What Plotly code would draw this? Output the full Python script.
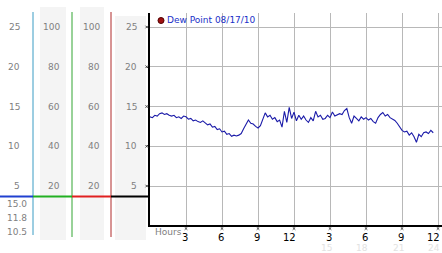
import plotly.graph_objects as go

# ---- data ----
dew_point = [
    13.7, 13.6, 13.9, 13.8, 14.1, 14.2, 14.0, 14.1, 13.9, 13.8,
    13.9, 13.6, 13.7, 13.5, 13.8, 13.7, 13.4, 13.5, 13.2, 13.3,
    13.1, 13.0, 13.2, 12.9, 12.7, 12.8, 12.4, 12.5, 12.1, 12.2,
    11.8, 11.9, 11.5, 11.6, 11.25, 11.4, 11.3, 11.4, 11.6, 12.2,
    12.7, 13.3, 12.9, 12.8, 12.5, 12.3, 12.6, 13.4, 14.2, 13.7,
    13.9, 13.4, 13.6, 13.1, 13.3, 12.4, 14.4, 13.0, 14.9, 13.5,
    14.3, 13.2, 13.9, 13.4, 13.8, 13.3, 13.0, 13.6, 13.2, 14.4,
    13.7, 13.9, 13.4, 13.5, 13.9, 13.6, 14.3, 13.8, 14.0, 14.1,
    14.0, 14.5, 14.75, 13.6, 12.9, 13.8, 13.5, 13.2, 13.7, 13.4,
    13.6, 13.3, 13.5, 13.1, 12.9, 13.6, 14.0, 14.25, 13.8, 14.0,
    13.6, 13.4, 13.25, 12.9, 12.4, 12.0, 11.8, 11.9, 11.4, 11.7,
    11.2, 10.5, 11.5, 11.2, 11.7, 11.8, 11.6, 12.0, 11.7,
]
hours = [i * 0.2 for i in range(len(dew_point))]

y_ticks = [25, 20, 15, 10, 5]
pct_ticks = ["100", "80", "60", "40", "20"]
hour_ticks = [3, 6, 9, 12, 15, 18, 21, 24]
hour_labels = ["3", "6", "9", "12", "3", "6", "9", "12"]
faint_ticks = [15, 18, 21, 24]
faint_labels = ["15", "18", "21", "24"]
col1_extra = ["15.0", "11.8", "10.5"]
legend_text = "Dew Point 08/17/10"

W, H = 442, 253
def X(px):
    return px / W
def Y(py):
    return 1 - py / H

FONT = "DejaVu Sans"
GRAY = "#808080"
TICK = "#444444"

fig = go.Figure()
fig.add_trace(go.Scatter(x=hours, y=dew_point, mode="lines",
                         line=dict(color="#1a1aa8", width=1.1),
                         hoverinfo="skip", showlegend=False))

shapes = []
# gray column backgrounds
for x0, x1, y0, y1 in [(40, 66, 7, 240), (80, 104, 7, 240), (115, 146, 16, 240)]:
    shapes.append(dict(type="rect", xref="paper", yref="paper",
                       x0=X(x0), x1=X(x1), y0=Y(y1), y1=Y(y0),
                       fillcolor="#f4f4f4", line=dict(width=0), layer="below"))
# vertical colored lines
for xv, col, yb in [(33, "#3a9cc4", 235), (72, "#33a533", 237), (111, "#b02a2a", 237)]:
    shapes.append(dict(type="line", xref="paper", yref="paper",
                       x0=X(xv), x1=X(xv), y0=Y(12), y1=Y(yb),
                       line=dict(color=col, width=1)))
# horizontal colored segments
for x0, x1, col in [(0, 33, "#2040d0"), (33, 72, "#22b022"), (72, 111, "#e02020"), (111, 150, "#000000")]:
    shapes.append(dict(type="line", xref="paper", yref="paper",
                       x0=X(x0), x1=X(x1), y0=Y(196.5), y1=Y(196.5),
                       line=dict(color=col, width=2)))

# tiny x-shaped tick marks (left axis)
for v in y_ticks:
    for s in (1, -1):
        shapes.append(dict(type="line", xref="paper", yref="y",
                           x0=X(145.5), x1=X(148), y0=v + s * 0.16, y1=v - s * 0.16,
                           line=dict(color=TICK, width=1)))
# tiny x-shaped tick marks (bottom axis)
for t in hour_ticks:
    for s in (1, -1):
        shapes.append(dict(type="line", xref="x", yref="paper",
                           x0=t - 0.11, x1=t + 0.11, y0=Y(228.5 + s * 1.3), y1=Y(228.5 - s * 1.3),
                           line=dict(color=TICK, width=1)))

ann = []
def label(text, px_right, yv, yref="y", color=GRAY, size=9):
    ann.append(dict(text=text, x=X(px_right), y=yv, xref="paper", yref=yref,
                    xanchor="right", yanchor="middle", showarrow=False,
                    font=dict(family=FONT, size=size, color=color), borderpad=0))

for v, p in zip(y_ticks, pct_ticks):
    label(str(v), 21, v)
    label(p, 61, v)
    label(p, 101, v)
    label(str(v), 138, v)
for t, py in zip(col1_extra, [204, 218, 232]):
    label(t, 28, Y(py), yref="paper")

# hour labels
for t, lab in zip(hour_ticks, hour_labels):
    ann.append(dict(text=lab, x=t, y=Y(237.5), xref="x", yref="paper",
                    xanchor="right", yanchor="middle", xshift=2.5, showarrow=False,
                    font=dict(family=FONT, size=10, color="#000"), borderpad=0))
for t, lab in zip(faint_ticks, faint_labels):
    ann.append(dict(text=lab, x=t, y=Y(248), xref="x", yref="paper",
                    xanchor="right", yanchor="middle", xshift=3, showarrow=False,
                    font=dict(family=FONT, size=9, color="#e2e2e2"), borderpad=0))
ann.append(dict(text="Hours", x=X(154), y=Y(232), xref="paper", yref="paper",
                xanchor="left", yanchor="middle", showarrow=False,
                font=dict(family=FONT, size=9, color=GRAY), borderpad=0))
# legend
shapes.append(dict(type="circle", xref="paper", yref="paper",
                   x0=X(158), x1=X(164), y0=Y(23.5), y1=Y(17.5),
                   fillcolor="#a01010", line=dict(color="#500000", width=1)))
ann.append(dict(text=legend_text, x=X(166), y=Y(20.5), xref="paper", yref="paper",
                xanchor="left", yanchor="middle", showarrow=False,
                font=dict(family=FONT, size=9, color="#2030c8"), borderpad=0))

fig.update_layout(
    width=W, height=H, margin=dict(l=0, r=0, t=0, b=0),
    paper_bgcolor="white", plot_bgcolor="white",
    shapes=shapes, annotations=ann, showlegend=False,
    xaxis=dict(domain=[X(150), 1.0], range=[0, 24.33], tickvals=hour_ticks,
               showticklabels=False, ticks="", showgrid=True, gridcolor="#b8b8b8",
               gridwidth=1, zeroline=False, showline=True, linecolor="#000",
               linewidth=2, fixedrange=True),
    yaxis=dict(domain=[Y(225), Y(13)], range=[0.1, 26.76], tickvals=y_ticks,
               showticklabels=False, ticks="", showgrid=True, gridcolor="#b8b8b8",
               gridwidth=1, zeroline=False, showline=True, linecolor="#000",
               linewidth=2, fixedrange=True),
)
fig.write_html("out.html", config={"displayModeBar": False})
